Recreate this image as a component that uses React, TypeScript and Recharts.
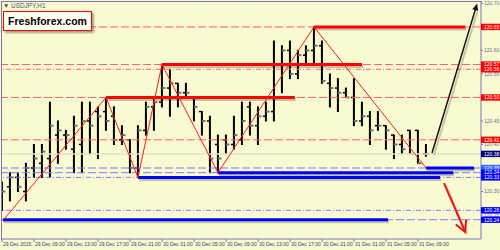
import React from 'react';
import { ComposedChart, Bar, Line, XAxis, YAxis, ReferenceLine } from 'recharts';

// hourly USDJPY bars, 29 Dec 05:00 .. 31 Dec 10:00 (index = hours)
const highs = [
  120.32, 120.34, 120.34, 120.36, 120.40, 120.40, 120.49, 120.45, 120.43, 120.46,
  120.49, 120.49, 120.48, 120.50, 120.48, 120.44, 120.41, 120.44, 120.49, 120.50,
  120.57, 120.56, 120.53, 120.53, 120.50, 120.47, 120.46, 120.42, 120.42, 120.46,
  120.49, 120.49, 120.48, 120.49, 120.62, 120.61, 120.62, 120.60, 120.61, 120.65,
  120.62, 120.55, 120.54, 120.52, 120.54, 120.49, 120.47, 120.47, 120.44, 120.42,
  120.42, 120.43, 120.43, 120.40,
];
const lows = [
  120.26, 120.28, 120.30, 120.28, 120.33, 120.33, 120.33, 120.36, 120.39, 120.34,
  120.34, 120.38, 120.37, 120.43, 120.40, 120.40, 120.34, 120.33, 120.42, 120.43,
  120.48, 120.46, 120.48, 120.50, 120.45, 120.42, 120.34, 120.34, 120.38, 120.39,
  120.40, 120.42, 120.40, 120.45, 120.45, 120.51, 120.54, 120.54, 120.57, 120.57,
  120.53, 120.48, 120.47, 120.50, 120.44, 120.44, 120.40, 120.43, 120.39, 120.37,
  120.38, 120.38, 120.36, 120.375,
];
const opens = [
  120.31, 120.31, 120.33, 120.30, 120.35, 120.36, 120.37, 120.42, 120.42, 120.39,
  120.40, 120.45, 120.47, 120.47, 120.46, 120.41, 120.41, 120.35, 120.43, 120.48,
  120.49, 120.52, 120.53, 120.51, 120.50, 120.47, 120.45, 120.40, 120.41, 120.40,
  120.41, 120.48, 120.44, 120.46, 120.47, 120.57, 120.60, 120.55, 120.59, 120.60,
  120.61, 120.53, 120.52, 120.51, 120.50, 120.45, 120.46, 120.44, 120.44, 120.42,
  120.40, 120.43, 120.43, 120.38,
];
const closes = [
  120.30, 120.33, 120.31, 120.35, 120.37, 120.385, 120.44, 120.43, 120.42, 120.44,
  120.45, 120.44, 120.46, 120.45, 120.41, 120.42, 120.35, 120.43, 120.48, 120.49,
  120.52, 120.53, 120.51, 120.51, 120.48, 120.45, 120.37, 120.37, 120.40, 120.42,
  120.45, 120.44, 120.46, 120.47, 120.57, 120.60, 120.55, 120.59, 120.60, 120.61,
  120.535, 120.52, 120.51, 120.50, 120.45, 120.46, 120.43, 120.44, 120.43, 120.40,
  120.39, 120.38, 120.36, 120.38,
];

const timeTicks = [0, 4, 8, 12, 16, 20, 24, 28, 32, 36, 40, 44, 48, 52];
const timeLabels = [
  '29 Dec 2015', '29 Dec 09:00', '29 Dec 13:00', '29 Dec 17:00', '29 Dec 21:00',
  '30 Dec 01:00', '30 Dec 05:00', '30 Dec 09:00', '30 Dec 13:00', '30 Dec 17:00',
  '30 Dec 21:00', '31 Dec 01:00', '31 Dec 05:00', '31 Dec 09:00',
];
const priceTicks = [120.25, 120.3, 120.4, 120.45, 120.55, 120.6, 120.7];

// zigzag swing points
const zigT = [0.2, 13, 17, 20, 27, 39, 53];
const zigP = [120.24, 120.5, 120.33, 120.57, 120.34, 120.65, 120.35];

// horizontal levels
const resistLevels = [120.65, 120.57, 120.56, 120.5, 120.41];
const pivotLevel = 120.38;
const supportLevels = [120.35, 120.34, 120.33, 120.26, 120.24];

// thick level segments
const resistAt = [120.65, 120.57, 120.5];
const resistFrom = [39, 20, 13];
const resistTo = [57.9, 45, 36.6];
const supportAt = [120.35, 120.34, 120.33, 120.24];
const supportFrom = [53, 27, 17, 0.1];
const supportTo = [59, 56.4, 54.75, 48.25];

// forecast arrows [time, price]
const upArrow = [[53.75, 120.382], [59.4, 120.7]];
const downArrow = [[55.25, 120.318], [57.9, 120.214]];

const bars = highs.map((h, i) => ({
  t: i,
  range: [lows[i], h],
  high: h,
  low: lows[i],
  open: opens[i],
  close: closes[i],
}));
const zigzag = zigT.map((t, i) => ({ t, p: zigP[i] }));

const resistDash = ['8 3', '8 3', '5 2 1 2', '8 3', '8 3'];
const supportDash = ['8 3', '8 3', '5 2 1 2', '5 2 1 2', '8 3'];
const AXIS = '#7878b4';

function OhlcBar(props: any) {
  const { x, y, width, height, payload } = props;
  const cx = x + width / 2;
  const top = Math.min(y, y + height);
  const span = Math.abs(height);
  const range = payload.high - payload.low || 1;
  const at = (v: number) => top + ((payload.high - v) / range) * span;
  return (
    <g>
      <line x1={cx} x2={cx} y1={top - 0.5} y2={top + span + 0.5} stroke="#000" strokeWidth={2} />
      <line x1={cx - 3} x2={cx} y1={at(payload.open)} y2={at(payload.open)} stroke="#000" strokeWidth={1.5} />
      <line x1={cx} x2={cx + 3.5} y1={at(payload.close)} y2={at(payload.close)} stroke="#707070" strokeWidth={2} />
    </g>
  );
}

function thickSegment(color: string) {
  return (props: any) => {
    const { x1, y1, x2, y2 } = props;
    return (
      <g>
        <line x1={x1 + 1} y1={y1 + 2} x2={x2 + 1} y2={y2 + 2} stroke="rgba(0,0,0,0.22)" strokeWidth={3} />
        <line x1={x1} y1={y1} x2={x2} y2={y2} stroke={color} strokeWidth={3} />
      </g>
    );
  };
}

function UpArrowShape(props: any) {
  const { x1, y1, x2, y2 } = props;
  const dx = x2 - x1;
  const dy = y2 - y1;
  const len = Math.hypot(dx, dy) || 1;
  const ux = dx / len;
  const uy = dy / len;
  const bx = x2 - ux * 7;
  const by = y2 - uy * 7;
  const head = `${x2},${y2} ${bx - uy * 3},${by + ux * 3} ${bx + uy * 3},${by - ux * 3}`;
  return (
    <g>
      <line x1={x1 + 2} y1={y1 + 2} x2={bx + 2} y2={by + 2} stroke="rgba(0,0,0,0.2)" strokeWidth={2} />
      <line x1={x1} y1={y1} x2={bx} y2={by} stroke="#111" strokeWidth={1.5} />
      <polygon points={head} fill="#111" />
    </g>
  );
}

function DownArrowShape(props: any) {
  const { x1, y1, x2, y2 } = props;
  const dx = x2 - x1;
  const dy = y2 - y1;
  const len = Math.hypot(dx, dy) || 1;
  const ux = dx / len;
  const uy = dy / len;
  const wing = (sign: number) => {
    const a = (sign * 28 * Math.PI) / 180;
    const rx = ux * Math.cos(a) - uy * Math.sin(a);
    const ry = ux * Math.sin(a) + uy * Math.cos(a);
    return [x2 - rx * 12, y2 - ry * 12];
  };
  const [lx, ly] = wing(1);
  const [rx, ry] = wing(-1);
  return (
    <g>
      <polyline points={`${x1 + 2},${y1 + 2} ${x2 + 2},${y2 + 2}`} stroke="rgba(0,0,0,0.15)" strokeWidth={2} fill="none" />
      <line x1={x1} y1={y1} x2={x2} y2={y2} stroke="#ee1111" strokeWidth={2} />
      <polyline points={`${lx},${ly} ${x2},${y2} ${rx},${ry}`} stroke="#ee1111" strokeWidth={2} fill="none" />
    </g>
  );
}

function levelFill(v: number) {
  const near = (a: number) => Math.abs(a - v) < 1e-6;
  if (resistLevels.some(near)) return '#ff0000';
  if (near(pivotLevel)) return '#000080';
  if (near(supportLevels[0])) return '#2f6bff';
  if (supportLevels.some(near)) return '#0000ff';
  return null;
}

function PriceTick(props: any) {
  const { x, y, payload } = props;
  const v = payload.value as number;
  const fill = levelFill(v);
  const label = v.toFixed(2);
  if (!fill) {
    return (
      <text x={x} y={y} dy={1.8} fontSize={5} fill="#6a6a9a" fontFamily="Liberation Sans, Arial">
        {label}
      </text>
    );
  }
  return (
    <g>
      <rect x={x - 3} y={y - 3.2} width={19} height={6.4} fill={fill} />
      <text x={x} y={y} dy={1.8} fontSize={5} fill="#ffffff" fontFamily="Liberation Sans, Arial">
        {label}
      </text>
    </g>
  );
}

function TimeTick(props: any) {
  const { x, y, payload } = props;
  const label = timeLabels[timeTicks.indexOf(payload.value)];
  return (
    <text x={x + 1} y={y} dy={4} fontSize={5} fill="#3a3a78" textAnchor="start" fontFamily="Liberation Sans, Arial">
      {label}
    </text>
  );
}

export default function App() {
  return (
    <div
      style={{
        position: 'absolute',
        left: 0,
        top: 0,
        width: 500,
        height: 250,
        background: '#fafad2',
        overflow: 'hidden',
      }}
    >
      <ComposedChart
        width={500}
        height={250}
        data={bars}
        margin={{ top: 2, right: 0, left: 1, bottom: 0 }}
      >
        <XAxis
          dataKey="t"
          type="number"
          domain={[-0.125, 59.875]}
          allowDataOverflow
          ticks={timeTicks}
          interval={0}
          height={11}
          tick={<TimeTick />}
          tickSize={3}
          tickMargin={0}
          axisLine={{ stroke: AXIS }}
          tickLine={{ stroke: AXIS }}
        />
        <YAxis
          orientation="right"
          type="number"
          domain={[120.199, 120.703]}
          allowDataOverflow
          ticks={[...priceTicks, ...resistLevels, pivotLevel, ...supportLevels]}
          interval={0}
          width={19}
          tick={<PriceTick />}
          tickSize={2}
          tickMargin={1}
          axisLine={{ stroke: AXIS }}
          tickLine={{ stroke: AXIS }}
        />

        {resistLevels.map((v, i) => (
          <ReferenceLine key={`r${i}`} y={v} stroke="#ff6464" strokeDasharray={resistDash[i]} ifOverflow="visible" />
        ))}
        <ReferenceLine y={pivotLevel} stroke="#e2e2d2" strokeWidth={1.5} ifOverflow="visible" />
        {supportLevels.map((v, i) => (
          <ReferenceLine key={`s${i}`} y={v} stroke="#7a7aff" strokeDasharray={supportDash[i]} ifOverflow="visible" />
        ))}

        {resistAt.map((v, i) => (
          <ReferenceLine
            key={`rs${i}`}
            segment={[{ x: resistFrom[i], y: v }, { x: resistTo[i], y: v }]}
            shape={thickSegment('#ff0000')}
            ifOverflow="visible"
          />
        ))}
        {supportAt.map((v, i) => (
          <ReferenceLine
            key={`ss${i}`}
            segment={[{ x: supportFrom[i], y: v }, { x: supportTo[i], y: v }]}
            shape={thickSegment('#0000ff')}
            ifOverflow="visible"
          />
        ))}

        <Bar dataKey="range" barSize={2} shape={<OhlcBar />} isAnimationActive={false} />
        <Line
          data={zigzag}
          dataKey="p"
          stroke="#ff1a1a"
          strokeWidth={1}
          dot={false}
          activeDot={false}
          isAnimationActive={false}
        />

        <ReferenceLine
          segment={[{ x: upArrow[0][0], y: upArrow[0][1] }, { x: upArrow[1][0], y: upArrow[1][1] }]}
          shape={UpArrowShape}
          ifOverflow="visible"
        />
        <ReferenceLine
          segment={[{ x: downArrow[0][0], y: downArrow[0][1] }, { x: downArrow[1][0], y: downArrow[1][1] }]}
          shape={DownArrowShape}
          ifOverflow="visible"
        />
      </ComposedChart>

      {/* chart frame top/left */}
      <div
        style={{
          position: 'absolute',
          left: 1,
          top: 1,
          width: 480,
          height: 238,
          borderTop: `1px solid ${AXIS}`,
          borderLeft: `1px solid ${AXIS}`,
          pointerEvents: 'none',
        }}
      />
      <div
        style={{
          position: 'absolute',
          left: 3,
          top: 2,
          fontSize: 6.4,
          color: '#505070',
          fontFamily: 'Liberation Sans, Arial',
          whiteSpace: 'nowrap',
        }}
      >
        ▼ USDJPY,H1
      </div>
      <div
        style={{
          position: 'absolute',
          left: 3,
          top: 11,
          width: 87,
          height: 18,
          border: '1px solid #ff0000',
          background: '#fffff2',
          boxShadow: '2px 2px 2px rgba(0,0,0,0.35)',
          fontFamily: 'Liberation Sans, Arial',
          fontWeight: 'bold',
          fontSize: 10.5,
          lineHeight: '18px',
          textAlign: 'center',
          color: '#000',
        }}
      >
        Freshforex.com
      </div>
    </div>
  );
}
